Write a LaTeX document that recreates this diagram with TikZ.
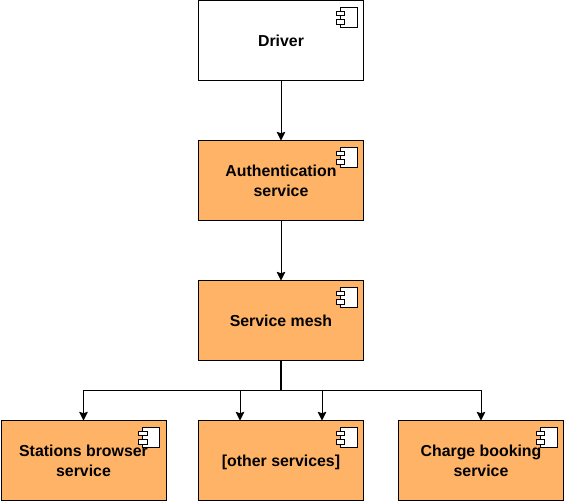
\documentclass[tikz,border=0pt]{standalone}
\usepackage{fontspec}
\setmainfont{Liberation Sans}
\usetikzlibrary{arrows.meta,calc}
\definecolor{svcfill}{HTML}{FFB366}
\tikzset{
  box/.style={draw=black,line width=0.75pt,minimum width=123.75pt,minimum height=60pt,inner sep=0pt,outer sep=0pt},
  plainbox/.style={box,fill=white},
  svcbox/.style={box,fill=svcfill},
  lbl/.style={align=center,inner sep=0pt,font=\fontsize{11.9pt}{15pt}\selectfont\bfseries,text=black},
  conn/.style={draw=black,line width=0.75pt,-{Stealth[length=6.5pt,width=6.5pt,inset=1pt]}},
  trunk/.style={draw=black,line width=1.5pt},
  iconpart/.style={draw=black,line width=0.75pt,fill=white}
}
\newcommand{\compicon}[1]{%
  \begin{scope}[shift={(#1.north east)}]
    \path[iconpart] (-23.5,6.5) rectangle (-6.5,26.5);
    \path[iconpart] (-27.5,10.5) rectangle (-19,15);
    \path[iconpart] (-27.5,19) rectangle (-19,23.5);
  \end{scope}}
\begin{document}
\begin{tikzpicture}[x=0.75pt,y=-0.75pt]
\useasboundingbox (0,0) rectangle (564,501);
\node[plainbox] (driver) at (281,40.5) {};
\node[svcbox] (auth) at (281,180.5) {};
\node[svcbox] (mesh) at (281,320.5) {};
\node[svcbox] (stations) at (83.5,460.5) {};
\node[svcbox] (other) at (281,460.5) {};
\node[svcbox] (charge) at (481,460.5) {};
\foreach \n in {driver,auth,mesh,stations,other,charge}{\compicon{\n}}
\node[lbl] (driverl) at (driver) {Driver};
\node[lbl] (authl) at (auth) {Authentication\\service};
\node[lbl] (meshl) at (mesh) {Service mesh};
\node[lbl] (stationsl) at (stations) {Stations browser\\service};
\node[lbl,yshift=-1.2pt] (otherl) at (other) {[other services]};
\node[lbl] (chargel) at (charge) {Charge booking\\service};
\coordinate (otherA) at ($(other.north)+(-41,0)$);
\coordinate (otherB) at ($(other.north)+(41,0)$);
\coordinate (bus) at ($(mesh.south)+(0,30)$);
\draw[conn] (driver.south) -- (auth.north);
\draw[conn] (auth.south) -- (mesh.north);
\draw[conn] (mesh.south) -- (bus) -| (stations.north);
\draw[conn] (mesh.south) -- (bus) -| (otherA);
\draw[conn] (mesh.south) -- (bus) -| (otherB);
\draw[conn] (mesh.south) -- (bus) -| (charge.north);
\draw[trunk] (mesh.south) -- (bus);
\end{tikzpicture}
\end{document}
